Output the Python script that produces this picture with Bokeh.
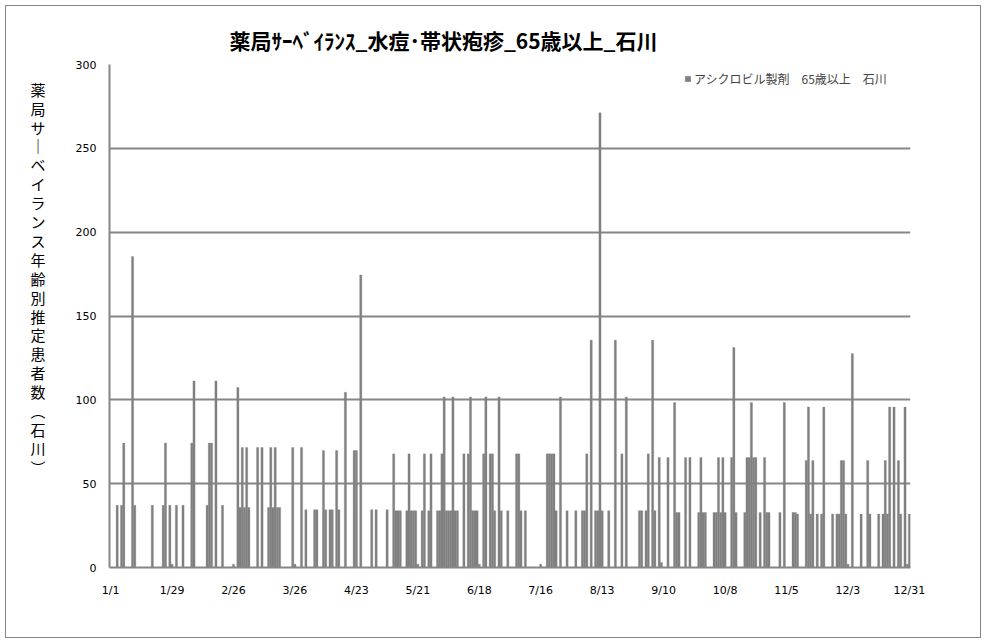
from bokeh.plotting import figure
from bokeh.models import Range1d, FixedTicker, Legend, LegendItem, ColumnDataSource, InlineStyleSheet
from bokeh.embed import file_html
from bokeh.resources import INLINE

# ---------------- data ----------------
title_text = "薬局ｻｰﾍﾞｲﾗﾝｽ_水痘･帯状疱疹_65歳以上_石川"
y_label_text = "薬局サーベイランス年齢別推定患者数(石川)"
series_name = "アシクロビル製剤　65歳以上　石川"

tick_days = [0, 28, 56, 84, 112, 140, 168, 196, 224, 252, 280, 308, 336, 364]
tick_labels = ["1/1", "1/29", "2/26", "3/26", "4/23", "5/21", "6/18",
               "7/16", "8/13", "9/10", "10/8", "11/5", "12/3", "12/31"]
y_ticks = [0, 50, 100, 150, 200, 250, 300]

# day of year (0 = 1/1) and estimated patients
bar_day = [3, 5, 6, 10, 11, 19, 24, 25, 27, 28, 30, 33, 37, 38, 44, 45, 46, 48, 51,
           56, 58, 59, 60, 61, 62, 63, 67, 69, 72, 73, 74, 75, 76, 77, 83, 84, 87,
           89, 93, 94, 97, 98, 100, 101, 103, 104, 107, 111, 112, 114, 119, 121, 126,
           129, 130, 131, 132, 135, 136, 137, 138, 139, 140, 142, 143, 145, 146,
           149, 150, 151, 152, 153, 154, 155, 156, 157, 158, 161, 163, 164, 165, 166,
           167, 168, 170, 171, 173, 174, 175, 177, 178, 181, 185, 186, 187, 189, 196,
           199, 200, 201, 202, 203, 205, 208, 212, 215, 216, 217, 219, 221, 222, 223,
           224, 227, 230, 233, 235, 241, 242, 244, 245, 247, 248,
           250, 251, 254, 257, 258, 259, 262, 264, 268, 269, 270, 271, 275, 276, 277,
           278, 279, 280, 283, 284, 285, 289, 290, 291, 292, 293, 294, 296, 298, 299,
           300, 305, 307, 311, 312,
           313, 317, 318, 319, 320, 322, 324, 325, 329, 331, 332, 333, 334, 335, 336,
           338, 342, 345, 346, 350, 352, 353, 354, 355, 357, 359, 360, 362, 363, 364]
bar_value = [37.1, 37.1, 74.2, 185.5, 37.1, 37.1, 37.1, 74.2, 37.1, 2, 37.1, 37.1, 74.2, 111.3, 37.1, 74.2, 74.2, 111.3, 37.1,
             2, 107.4, 35.8, 71.6, 35.8, 71.6, 35.8, 71.6, 71.6, 35.8, 71.6, 35.8, 71.6, 35.8, 35.8, 71.6, 2, 71.6,
             34.5, 34.5, 34.5, 69.8, 34.5, 34.5, 34.5, 69.8, 34.5, 104.5, 69.8, 69.8, 174.5, 34.5, 34.5, 34.5,
             67.8, 33.9, 33.9, 33.9, 33.9, 67.8, 33.9, 33.9, 33.9, 2, 33.9, 67.8, 33.9, 67.8,
             33.9, 33.9, 67.8, 101.7, 33.9, 33.9, 33.9, 101.7, 33.9, 33.9, 67.8, 67.8, 101.7, 33.9, 33.9,
             33.9, 2, 67.8, 101.7, 67.8, 67.8, 33.9, 101.7, 33.9, 33.9, 67.8, 67.8, 33.9, 33.9, 2,
             67.8, 67.8, 67.8, 67.8, 33.9, 101.7, 33.9, 33.9, 33.9, 33.9, 67.8, 135.6, 33.9, 33.9, 271.2,
             33.9, 33.9, 135.6, 67.8, 101.7, 33.9, 33.9, 33.9, 67.8, 135.6, 33.9,
             65.6, 3, 65.6, 98.4, 32.8, 32.8, 65.6, 65.6, 32.8, 65.6, 32.8, 32.8, 32.8, 32.8, 65.6,
             32.8, 65.6, 32.8, 65.6, 131.2, 32.8, 32.8, 65.6, 65.6, 98.4, 65.6, 65.6, 32.8, 65.6, 32.8,
             32.8, 32.8, 98.4, 32.8, 32.8,
             31.9, 63.8, 95.7, 31.9, 63.8, 31.9, 31.9, 95.7, 31.9, 31.9, 31.9, 63.8, 63.8, 31.9, 2,
             127.6, 31.9, 63.8, 31.9, 31.9, 31.9, 63.8, 31.9, 95.7, 95.7, 63.8, 31.9, 95.7, 2, 31.9]

# ---------------- layout ----------------
W, H = 986, 644
FL, FR, FT, FB = 109, 910, 64, 567       # plot frame in pixels
GRAY = "#868686"

p = figure(width=W, height=H, output_backend="svg", toolbar_location=None,
           x_range=Range1d(-0.5, 364.5), y_range=Range1d(0, 300),
           min_border_left=FL, min_border_right=W - FR,
           min_border_top=FT, min_border_bottom=H - FB)
p.outline_line_color = None
p.background_fill_color = "white"
p.border_fill_color = "white"

src = ColumnDataSource(dict(day=bar_day, value=bar_value))
r = p.vbar(x="day", top="value", width=1.0, source=src,
           fill_color="#808080", line_color="#808080", line_width=0.3)

# title
p.title.text = title_text
p.title.text_font = "Noto Sans CJK JP"
p.title.text_font_size = "21px"
p.title.text_font_style = "bold"
p.title.text_color = "black"
p.title.align = "left"
p.title.offset = 120
p.title.standoff = 20

# axes
p.xaxis.ticker = FixedTicker(ticks=tick_days)
p.xaxis.major_label_overrides = {d: s for d, s in zip(tick_days, tick_labels)}
p.yaxis.ticker = FixedTicker(ticks=y_ticks)
for ax in (p.xaxis, p.yaxis):
    ax.axis_line_color = GRAY
    ax.axis_line_width = 2
    ax.major_tick_line_color = None
    ax.minor_tick_line_color = None
    ax.major_label_text_font = "DejaVu Sans"
    ax.major_label_text_font_size = "11px"
    ax.major_label_text_color = "black"
p.yaxis.major_label_standoff = 7
p.xaxis.major_label_standoff = 10
p.xgrid.grid_line_color = None
p.ygrid.ticker = FixedTicker(ticks=[50, 100, 150, 200, 250, 300])
p.ygrid.grid_line_color = GRAY
p.ygrid.grid_line_width = 2

# vertical (stacked) y-axis title
vert = {"ー": "｜", "(": "︵", ")": "︶"}
stacked = [vert.get(ch, ch) for ch in y_label_text] + ["　"] * 4
p.yaxis.axis_label = "\n".join(stacked)
p.yaxis.axis_label_text_font = "Noto Sans CJK JP"
p.yaxis.axis_label_text_font_size = "15px"
p.yaxis.axis_label_text_font_style = "normal"
p.yaxis.axis_label_text_color = "black"
p.yaxis.axis_label_text_line_height = 0.9
p.yaxis.axis_label_standoff = 27
try:
    p.yaxis.axis_label_orientation = "horizontal"
except Exception:
    pass

# legend
legend = Legend(items=[LegendItem(label=series_name, renderers=[r])],
                location=(575, 480), orientation="vertical",
                glyph_width=7, glyph_height=7, label_standoff=3,
                label_height=14, padding=0, margin=0, spacing=0,
                border_line_color=None, background_fill_alpha=0,
                label_text_font="Noto Sans CJK JP", label_text_font_size="12px")
p.add_layout(legend)

# outer chart border: an overlay box just inside the canvas edge
try:
    p.stylesheets = [InlineStyleSheet(css=(
        ":host { position: relative; }"
        ":host::after { content: ''; position: absolute; left: 5px; top: 5px; "
        "width: 976px; height: 633px; box-sizing: border-box; "
        "border: 1px solid #868686; pointer-events: none; z-index: 100; }"))]
except Exception:
    pass

open("out.html", "w").write(file_html(p, INLINE))
